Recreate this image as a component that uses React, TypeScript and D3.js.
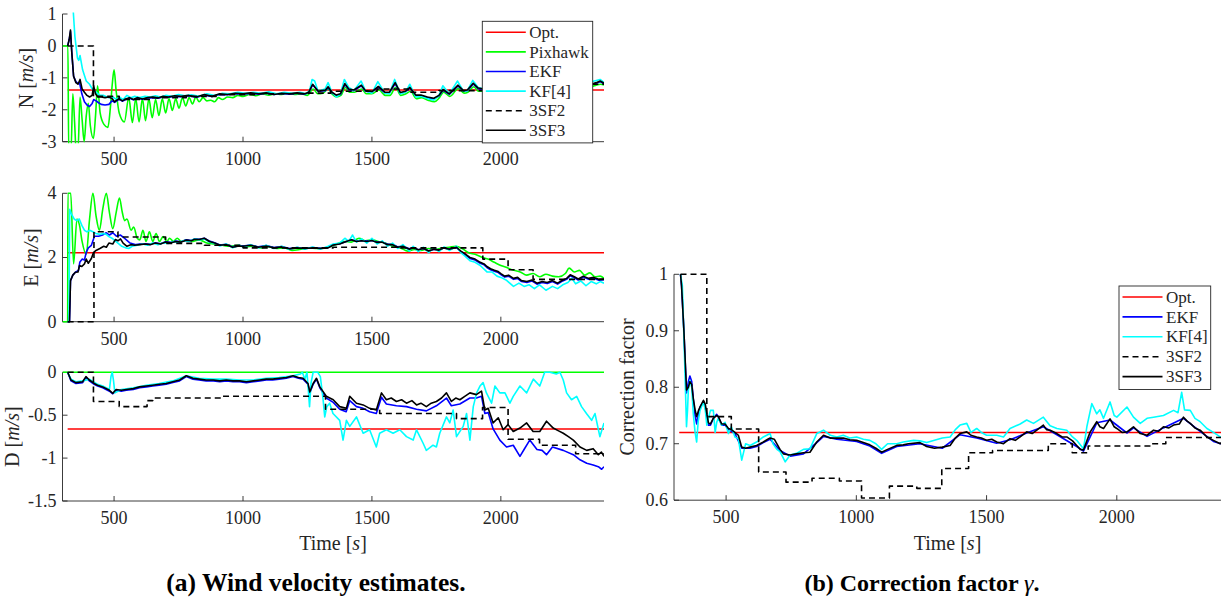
import React from 'react';
import * as d3 from 'd3';

type P = [number, number][];

// ---------- North wind ----------
const N_OPT = -1.38;
const N_PIX: P = [[300,0],[321,0],[324,-3.3],[333,-3.3],[340,-1.5],[347,-2.4],[353,-3.3],[360,-3.3],[368,-1.6],[376,-2.3],[384,-3.0],[392,-2.2],[400,-1.8],[408,-2.5],[420,-2.9],[428,-2.2],[436,-1.25],[446,-2.1],[460,-2.45],[476,-2.55],[486,-1.9],[493,-1.2],[500,-0.75],[508,-1.4],[520,-2.1],[540,-2.38],[557,-1.62],[571,-2.4],[584,-1.65],[597,-2.38],[610,-1.65],[622,-2.34],[635,-1.66],[648,-2.25],[661,-1.68],[674,-2.18],[687,-1.66],[700,-2.1],[713,-1.65],[726,-2.02],[739,-1.66],[752,-1.95],[765,-1.62],[778,-1.88],[791,-1.62],[804,-1.82],[817,-1.6],[830,-1.75],[845,-1.62],[860,-1.72],[875,-1.7],[890,-1.75],[905,-1.62],[920,-1.68],[940,-1.6],[960,-1.62],[980,-1.55],[1000,-1.58],[1025,-1.52],[1050,-1.56],[1075,-1.5],[1100,-1.54],[1125,-1.5],[1150,-1.52],[1175,-1.48],[1200,-1.52],[1225,-1.5],[1250,-1.55],[1272,-1.35],[1290,-1.5],[1310,-1.48],[1330,-1.35],[1345,-1.5],[1362,-1.6],[1380,-1.55],[1397,-1.3],[1412,-1.45],[1432,-1.45],[1460,-1.35],[1478,-1.5],[1500,-1.5],[1527,-1.38],[1552,-1.55],[1570,-1.55],[1592,-1.3],[1612,-1.55],[1632,-1.5],[1650,-1.42],[1672,-1.65],[1692,-1.62],[1717,-1.7],[1742,-1.75],[1762,-1.62],[1778,-1.45],[1802,-1.58],[1836,-1.33],[1857,-1.48],[1872,-1.45],[1895,-1.28],[1914,-1.42],[1937,-1.42],[1962,-1.35],[1992,-1.45],[2022,-1.38],[2052,-1.42],[2082,-1.33],[2112,-1.42],[2142,-1.35],[2172,-1.45],[2202,-1.38],[2232,-1.3],[2262,-1.4],[2292,-1.32],[2322,-1.36],[2352,-1.28],[2372,-1.22],[2387,-1.2],[2400,-1.22]];
const N_EKF: P = [[320,0],[326,0.2],[331,0.45],[336,-0.2],[343,-0.95],[352,-1.12],[360,-1.18],[366,-1.15],[375,-1.5],[385,-1.75],[395,-1.85],[405,-1.9],[415,-1.8],[421,-1.68],[430,-1.72],[440,-1.78],[450,-1.83],[465,-1.85],[480,-1.83],[492,-1.72],[502,-1.77],[510,-1.72],[520,-1.67],[532,-1.73],[545,-1.68],[560,-1.64],[575,-1.69],[590,-1.64],[610,-1.67],[630,-1.63],[650,-1.62],[670,-1.64],[690,-1.6],[710,-1.61],[735,-1.58],[760,-1.59],[790,-1.56],[820,-1.61],[850,-1.54],[880,-1.58],[910,-1.52],[940,-1.53],[970,-1.5],[1000,-1.51],[1030,-1.49],[1060,-1.51],[1090,-1.48],[1120,-1.52],[1150,-1.49],[1180,-1.51],[1210,-1.48],[1240,-1.51],[1255,-1.46],[1270,-1.22],[1280,-1.31],[1292,-1.43],[1305,-1.41],[1320,-1.4],[1330,-1.3],[1345,-1.47],[1362,-1.56],[1378,-1.52],[1395,-1.2],[1410,-1.37],[1430,-1.4],[1459,-1.25],[1475,-1.42],[1500,-1.45],[1525,-1.29],[1550,-1.47],[1568,-1.47],[1590,-1.18],[1610,-1.48],[1630,-1.44],[1647,-1.32],[1670,-1.56],[1690,-1.56],[1715,-1.62],[1740,-1.66],[1760,-1.57],[1776,-1.38],[1800,-1.52],[1834,-1.25],[1855,-1.42],[1870,-1.4],[1893,-1.19],[1912,-1.34],[1935,-1.37],[1960,-1.3],[1990,-1.42],[2020,-1.32],[2050,-1.37],[2080,-1.27],[2110,-1.37],[2140,-1.3],[2170,-1.42],[2200,-1.32],[2230,-1.24],[2260,-1.37],[2290,-1.27],[2320,-1.32],[2350,-1.22],[2370,-1.17],[2385,-1.12],[2400,-1.19]];
const N_KF: P = [[320,1.3],[340,1.3],[348,0.3],[358,-0.38],[363,-0.45],[368,-0.3],[378,-0.75],[392,-1.1],[405,-1.2],[418,-1.38],[430,-1.45],[445,-1.55],[460,-1.55],[478,-1.62],[495,-1.6],[510,-1.68],[520,-1.6],[535,-1.68],[550,-1.55],[565,-1.62],[580,-1.58],[600,-1.62],[620,-1.58],[640,-1.6],[660,-1.56],[680,-1.6],[700,-1.55],[725,-1.58],[750,-1.52],[775,-1.56],[800,-1.53],[830,-1.58],[860,-1.5],[890,-1.55],[920,-1.48],[950,-1.5],[980,-1.45],[1010,-1.48],[1040,-1.45],[1070,-1.48],[1100,-1.44],[1130,-1.5],[1160,-1.45],[1190,-1.48],[1220,-1.45],[1245,-1.5],[1258,-1.4],[1268,-1.05],[1278,-1.1],[1290,-1.4],[1305,-1.38],[1318,-1.35],[1330,-1.15],[1345,-1.45],[1362,-1.6],[1378,-1.5],[1393,-1.05],[1410,-1.3],[1430,-1.4],[1458,-1.1],[1475,-1.4],[1500,-1.48],[1523,-1.12],[1550,-1.48],[1568,-1.5],[1588,-1.05],[1610,-1.5],[1630,-1.45],[1647,-1.2],[1670,-1.6],[1690,-1.58],[1715,-1.65],[1740,-1.7],[1760,-1.55],[1775,-1.25],[1800,-1.5],[1832,-1.1],[1855,-1.42],[1870,-1.4],[1891,-1.08],[1912,-1.3],[1935,-1.35],[1960,-1.2],[1990,-1.4],[2020,-1.25],[2050,-1.35],[2080,-1.18],[2110,-1.35],[2140,-1.22],[2170,-1.4],[2200,-1.25],[2230,-1.15],[2260,-1.35],[2290,-1.2],[2320,-1.28],[2350,-1.12],[2370,-1.08],[2385,-1.05],[2400,-1.15]];
const N_3SF2: P = [[320,0],[420,-1.58],[520,-1.68],[640,-1.62],[780,-1.58],[900,-1.53],[1050,-1.5],[1240,-1.48],[1340,-1.42],[1520,-1.35],[1640,-1.45],[1760,-1.4],[1930,-1.35],[2100,-1.3],[2250,-1.2],[2400,-1.2]];
const N_3SF3: P = [[320,0],[326,0.2],[331,0.5],[336,-0.2],[343,-0.95],[352,-1.15],[360,-1.2],[368,-1.05],[376,-1.35],[385,-1.45],[395,-1.55],[405,-1.6],[415,-1.55],[421,-1.25],[428,-1.5],[437,-1.6],[450,-1.6],[465,-1.62],[480,-1.6],[492,-1.65],[502,-1.75],[510,-1.7],[520,-1.65],[532,-1.72],[545,-1.66],[560,-1.62],[575,-1.68],[590,-1.62],[610,-1.66],[630,-1.62],[650,-1.6],[670,-1.63],[690,-1.58],[710,-1.6],[735,-1.56],[760,-1.58],[790,-1.55],[820,-1.6],[850,-1.52],[880,-1.58],[910,-1.5],[940,-1.52],[970,-1.48],[1000,-1.5],[1030,-1.47],[1060,-1.5],[1090,-1.47],[1120,-1.52],[1150,-1.48],[1180,-1.5],[1210,-1.47],[1240,-1.5],[1255,-1.45],[1270,-1.2],[1280,-1.3],[1292,-1.42],[1305,-1.4],[1320,-1.38],[1330,-1.28],[1345,-1.45],[1362,-1.54],[1378,-1.5],[1395,-1.18],[1410,-1.35],[1430,-1.38],[1459,-1.23],[1475,-1.4],[1500,-1.43],[1525,-1.27],[1550,-1.45],[1568,-1.45],[1590,-1.15],[1610,-1.46],[1630,-1.42],[1647,-1.3],[1670,-1.54],[1690,-1.54],[1715,-1.6],[1740,-1.64],[1760,-1.55],[1776,-1.36],[1800,-1.5],[1834,-1.23],[1855,-1.4],[1870,-1.38],[1893,-1.17],[1912,-1.32],[1935,-1.35],[1960,-1.28],[1990,-1.4],[2020,-1.3],[2050,-1.35],[2080,-1.25],[2110,-1.35],[2140,-1.28],[2170,-1.4],[2200,-1.3],[2230,-1.22],[2260,-1.35],[2290,-1.25],[2320,-1.3],[2350,-1.2],[2370,-1.15],[2385,-1.1],[2400,-1.17]];

// ---------- East wind ----------
const E_OPT = 2.15;
const E_PIX: P = [[300,0],[320,0],[321,4],[332,4],[343,1.8],[356,3.2],[366,3.0],[376,2.5],[392,2.1],[405,3.2],[418,4.0],[430,3.3],[443,2.85],[456,3.5],[470,4.0],[482,3.4],[495,2.9],[508,3.4],[521,3.85],[532,3.4],[541,3.15],[550,3.2],[566,2.85],[576,2.95],[590,2.6],[600,2.55],[612,2.85],[624,2.5],[637,2.8],[650,2.5],[663,2.75],[676,2.5],[690,2.65],[705,2.5],[715,2.6],[730,2.5],[745,2.6],[760,2.5],[780,2.55],[800,2.5],[830,2.55],[860,2.45],[890,2.42],[920,2.38],[950,2.35],[980,2.38],[1010,2.33],[1040,2.36],[1070,2.3],[1100,2.34],[1130,2.28],[1160,2.3],[1190,2.22],[1220,2.25],[1250,2.3],[1290,2.28],[1330,2.32],[1360,2.4],[1390,2.5],[1420,2.48],[1450,2.6],[1475,2.52],[1500,2.55],[1525,2.5],[1550,2.45],[1580,2.35],[1610,2.3],[1640,2.2],[1665,2.25],[1690,2.22],[1720,2.28],[1750,2.25],[1775,2.3],[1800,2.32],[1825,2.35],[1850,2.28],[1875,2.15],[1900,2.1],[1930,2.0],[1950,1.95],[1975,1.85],[2000,1.75],[2025,1.68],[2050,1.6],[2075,1.55],[2100,1.45],[2125,1.5],[2150,1.4],[2175,1.48],[2200,1.42],[2225,1.4],[2250,1.5],[2265,1.67],[2285,1.55],[2305,1.6],[2325,1.45],[2345,1.52],[2365,1.4],[2385,1.42],[2400,1.35]];
const E_EKF: P = [[320,0],[327,0],[331,1.28],[340,1.45],[350,1.54],[362,1.6],[367,1.85],[376,1.95],[385,1.92],[392,2.16],[400,2.3],[412,2.38],[424,2.66],[440,2.66],[455,2.7],[470,2.77],[482,2.7],[495,2.77],[510,2.66],[525,2.7],[540,2.6],[562,2.45],[585,2.4],[600,2.42],[620,2.43],[640,2.41],[660,2.46],[680,2.43],[700,2.49],[720,2.47],[740,2.51],[760,2.49],[780,2.55],[800,2.53],[812,2.58],[830,2.57],[850,2.6],[870,2.51],[890,2.46],[910,2.39],[935,2.41],[960,2.33],[985,2.37],[1000,2.36],[1030,2.39],[1060,2.33],[1090,2.37],[1120,2.31],[1150,2.34],[1180,2.28],[1210,2.31],[1240,2.29],[1270,2.31],[1300,2.29],[1330,2.31],[1350,2.4],[1375,2.43],[1400,2.5],[1420,2.55],[1440,2.51],[1460,2.53],[1480,2.51],[1500,2.53],[1520,2.48],[1540,2.48],[1560,2.41],[1580,2.41],[1600,2.33],[1620,2.35],[1645,2.27],[1660,2.3],[1680,2.24],[1700,2.28],[1720,2.2],[1740,2.26],[1760,2.23],[1780,2.3],[1800,2.26],[1828,2.31],[1845,2.18],[1860,2.1],[1880,1.97],[1900,1.92],[1920,1.82],[1935,1.77],[1946,1.69],[1960,1.62],[1975,1.57],[1990,1.53],[2000,1.47],[2015,1.39],[2030,1.42],[2049,1.32],[2065,1.35],[2080,1.25],[2101,1.22],[2120,1.27],[2140,1.17],[2160,1.22],[2180,1.19],[2200,1.25],[2220,1.17],[2240,1.27],[2255,1.32],[2269,1.43],[2285,1.37],[2300,1.3],[2320,1.39],[2340,1.32],[2360,1.35],[2380,1.29],[2400,1.31]];
const E_KF: P = [[320,0],[325,0],[328,3.5],[335,3.35],[345,3.2],[355,3.15],[365,3.2],[375,3.0],[385,2.85],[395,2.8],[405,2.85],[418,2.8],[430,2.75],[445,2.72],[458,2.75],[470,2.72],[480,2.65],[492,2.6],[500,2.55],[515,2.45],[530,2.35],[545,2.3],[557,2.28],[570,2.35],[590,2.38],[610,2.42],[630,2.38],[650,2.45],[670,2.4],[690,2.46],[710,2.44],[730,2.5],[750,2.47],[770,2.52],[790,2.5],[812,2.58],[830,2.55],[850,2.58],[870,2.48],[890,2.44],[910,2.36],[935,2.42],[960,2.3],[985,2.38],[1000,2.33],[1030,2.4],[1060,2.3],[1090,2.38],[1120,2.28],[1150,2.35],[1180,2.25],[1210,2.32],[1240,2.26],[1270,2.33],[1300,2.26],[1330,2.35],[1350,2.42],[1375,2.45],[1395,2.6],[1410,2.5],[1425,2.7],[1440,2.48],[1460,2.58],[1480,2.45],[1500,2.6],[1520,2.42],[1540,2.52],[1560,2.35],[1580,2.45],[1600,2.28],[1620,2.4],[1645,2.2],[1660,2.35],[1680,2.18],[1700,2.32],[1720,2.15],[1740,2.3],[1760,2.18],[1780,2.33],[1800,2.22],[1828,2.35],[1845,2.15],[1860,2.05],[1880,1.9],[1900,1.85],[1920,1.75],[1946,1.55],[1965,1.55],[1985,1.42],[2000,1.38],[2020,1.3],[2049,1.1],[2070,1.2],[2090,1.1],[2110,1.15],[2130,1.03],[2150,1.15],[2175,0.98],[2200,1.1],[2220,1.03],[2240,1.15],[2260,1.22],[2275,1.35],[2290,1.18],[2310,1.27],[2330,1.12],[2350,1.25],[2370,1.18],[2385,1.25],[2400,1.2]];
const E_3SF2: P = [[320,0],[422,2.8],[515,2.64],[700,2.44],[850,2.38],[1000,2.3],[1350,2.32],[1600,2.3],[1930,1.95],[2028,1.62],[2125,1.32],[2400,1.32]];
const E_3SF3: P = [[320,0],[327,0],[331,1.28],[340,1.45],[350,1.54],[360,1.55],[366,1.75],[375,1.72],[385,1.8],[392,1.95],[400,1.82],[412,1.97],[420,2.15],[430,2.22],[445,2.28],[460,2.35],[470,2.32],[480,2.45],[495,2.42],[505,2.56],[515,2.52],[525,2.58],[535,2.45],[550,2.35],[565,2.4],[580,2.38],[600,2.4],[620,2.42],[640,2.4],[660,2.45],[680,2.42],[700,2.48],[720,2.46],[740,2.5],[760,2.48],[780,2.54],[800,2.52],[812,2.57],[830,2.56],[850,2.6],[870,2.5],[890,2.45],[910,2.38],[935,2.4],[960,2.32],[985,2.36],[1000,2.35],[1030,2.38],[1060,2.32],[1090,2.36],[1120,2.3],[1150,2.33],[1180,2.27],[1210,2.3],[1240,2.28],[1270,2.3],[1300,2.28],[1330,2.3],[1350,2.39],[1375,2.42],[1400,2.5],[1420,2.55],[1440,2.5],[1460,2.52],[1480,2.5],[1500,2.53],[1520,2.47],[1540,2.48],[1560,2.4],[1580,2.4],[1600,2.32],[1620,2.35],[1645,2.26],[1660,2.3],[1680,2.24],[1700,2.28],[1720,2.2],[1740,2.26],[1760,2.23],[1780,2.3],[1800,2.26],[1828,2.32],[1845,2.2],[1860,2.12],[1880,2.0],[1900,1.95],[1920,1.85],[1935,1.8],[1946,1.72],[1960,1.65],[1975,1.6],[1990,1.56],[2000,1.5],[2015,1.42],[2030,1.45],[2049,1.35],[2065,1.38],[2080,1.28],[2101,1.25],[2120,1.3],[2140,1.2],[2160,1.25],[2180,1.22],[2200,1.28],[2220,1.2],[2240,1.3],[2255,1.35],[2269,1.46],[2285,1.4],[2300,1.33],[2320,1.42],[2340,1.35],[2360,1.38],[2380,1.32],[2400,1.33]];

// ---------- Down wind ----------
const D_OPT = -0.66;
const D_PIX: P = [[300,0],[2400,0]];
const D_EKF: P = [[320,0],[333,-0.1],[352,-0.13],[378,-0.12],[391,-0.06],[404,-0.1],[423,-0.14],[436,-0.16],[456,-0.18],[482,-0.22],[495,-0.25],[508,-0.21],[528,-0.22],[547,-0.21],[575,-0.2],[599,-0.18],[625,-0.17],[650,-0.16],[675,-0.15],[702,-0.14],[728,-0.12],[754,-0.1],[780,-0.05],[806,-0.08],[830,-0.09],[857,-0.1],[885,-0.1],[910,-0.11],[935,-0.1],[961,-0.11],[987,-0.11],[1013,-0.12],[1040,-0.11],[1065,-0.1],[1090,-0.09],[1115,-0.09],[1140,-0.08],[1168,-0.07],[1194,-0.05],[1215,-0.07],[1233,-0.08],[1252,-0.14],[1259,-0.24],[1272,-0.14],[1285,-0.08],[1298,-0.18],[1323,-0.3],[1350,-0.35],[1375,-0.43],[1400,-0.46],[1414,-0.33],[1440,-0.4],[1466,-0.42],[1491,-0.46],[1517,-0.48],[1537,-0.29],[1556,-0.37],[1595,-0.39],[1634,-0.4],[1673,-0.43],[1711,-0.45],[1750,-0.39],[1789,-0.3],[1808,-0.39],[1841,-0.37],[1880,-0.3],[1905,-0.3],[1925,-0.28],[1938,-0.48],[1951,-0.47],[1970,-0.66],[1996,-0.79],[2022,-0.87],[2048,-0.85],[2074,-0.98],[2090,-0.9],[2112,-0.79],[2140,-0.9],[2160,-0.91],[2177,-0.96],[2200,-0.87],[2242,-0.91],[2281,-0.96],[2307,-1.02],[2333,-1.06],[2358,-1.08],[2378,-1.1],[2391,-1.13],[2400,-1.1]];
const D_KF: P = [[320,0],[333,-0.08],[352,-0.11],[378,-0.1],[404,-0.08],[436,-0.14],[456,-0.16],[482,-0.2],[488,-0.05],[493,0],[498,-0.1],[503,-0.24],[528,-0.2],[575,-0.18],[625,-0.15],[675,-0.13],[728,-0.1],[780,-0.04],[830,-0.07],[885,-0.08],[935,-0.08],[987,-0.09],[1040,-0.09],[1090,-0.07],[1140,-0.06],[1194,-0.04],[1222,-0.02],[1230,0],[1240,-0.08],[1248,0],[1252,-0.15],[1258,-0.4],[1264,-0.12],[1272,0],[1290,0],[1300,-0.05],[1310,-0.3],[1317,-0.52],[1325,-0.4],[1336,-0.36],[1349,-0.48],[1375,-0.56],[1388,-0.79],[1401,-0.56],[1414,-0.63],[1440,-0.52],[1466,-0.71],[1491,-0.67],[1517,-0.87],[1530,-0.71],[1556,-0.67],[1582,-0.71],[1608,-0.67],[1634,-0.75],[1660,-0.79],[1673,-0.67],[1699,-0.83],[1711,-0.91],[1737,-0.85],[1750,-0.87],[1763,-0.71],[1789,-0.52],[1802,-0.59],[1815,-0.44],[1828,-0.75],[1854,-0.63],[1867,-0.48],[1880,-0.79],[1893,-0.4],[1906,-0.24],[1919,-0.16],[1931,-0.12],[1944,-0.24],[1964,-0.36],[1977,-0.16],[1996,-0.24],[2016,-0.24],[2035,-0.36],[2048,-0.28],[2074,-0.16],[2100,-0.24],[2126,-0.08],[2151,-0.16],[2170,0],[2190,0],[2215,-0.02],[2229,0],[2242,-0.09],[2255,-0.24],[2274,-0.32],[2294,-0.28],[2313,-0.4],[2332,-0.48],[2352,-0.56],[2365,-0.48],[2384,-0.75],[2400,-0.59]];
const D_3SF2: P = [[320,0],[420,-0.34],[520,-0.4],[628,-0.33],[650,-0.3],[920,-0.28],[1320,-0.43],[1530,-0.48],[1828,-0.54],[1929,-0.41],[2028,-0.78],[2150,-0.85],[2290,-0.95],[2400,-0.95]];
const D_3SF3: P = [[320,0],[333,-0.09],[352,-0.12],[378,-0.11],[391,-0.05],[404,-0.09],[423,-0.13],[436,-0.15],[456,-0.17],[482,-0.21],[495,-0.245],[508,-0.2],[528,-0.21],[547,-0.2],[575,-0.19],[599,-0.17],[625,-0.16],[650,-0.15],[675,-0.14],[702,-0.13],[728,-0.11],[754,-0.09],[780,-0.04],[806,-0.07],[830,-0.08],[857,-0.09],[885,-0.09],[910,-0.1],[935,-0.09],[961,-0.1],[987,-0.1],[1013,-0.11],[1040,-0.1],[1065,-0.09],[1090,-0.08],[1115,-0.08],[1140,-0.07],[1168,-0.06],[1194,-0.04],[1215,-0.06],[1233,-0.07],[1252,-0.13],[1259,-0.23],[1272,-0.13],[1285,-0.07],[1298,-0.17],[1323,-0.28],[1350,-0.32],[1375,-0.4],[1401,-0.42],[1414,-0.28],[1440,-0.36],[1466,-0.38],[1491,-0.42],[1517,-0.44],[1537,-0.24],[1556,-0.32],[1575,-0.3],[1595,-0.34],[1615,-0.32],[1634,-0.36],[1655,-0.33],[1673,-0.38],[1690,-0.36],[1711,-0.4],[1730,-0.36],[1750,-0.34],[1770,-0.3],[1789,-0.24],[1808,-0.34],[1825,-0.3],[1841,-0.32],[1860,-0.28],[1880,-0.24],[1905,-0.26],[1925,-0.22],[1938,-0.44],[1951,-0.42],[1970,-0.59],[1990,-0.53],[2009,-0.67],[2028,-0.61],[2048,-0.69],[2074,-0.65],[2100,-0.59],[2125,-0.69],[2151,-0.69],[2177,-0.57],[2203,-0.65],[2222,-0.68],[2242,-0.71],[2262,-0.75],[2281,-0.79],[2307,-0.87],[2333,-0.91],[2358,-0.89],[2378,-0.96],[2390,-0.93],[2400,-0.98]];

// ---------- Correction factor ----------
const G_OPT = 0.72;
const G_EKF: P = [[325,1.0],[329,0.98],[338,0.9],[348,0.79],[355,0.81],[361,0.82],[368,0.81],[374,0.78],[381,0.75],[387,0.735],[395,0.755],[400,0.765],[413,0.775],[420,0.765],[432,0.733],[440,0.733],[451,0.745],[464,0.752],[470,0.748],[483,0.733],[496,0.733],[509,0.725],[534,0.718],[560,0.692],[592,0.692],[617,0.695],[643,0.702],[669,0.708],[707,0.688],[746,0.678],[797,0.682],[848,0.702],[874,0.713],[925,0.708],[1001,0.704],[1052,0.696],[1097,0.683],[1155,0.695],[1244,0.7],[1330,0.692],[1398,0.716],[1462,0.71],[1539,0.701],[1590,0.707],[1654,0.719],[1718,0.73],[1770,0.716],[1846,0.695],[1872,0.687],[1923,0.737],[1974,0.742],[2039,0.719],[2064,0.728],[2116,0.713],[2179,0.728],[2256,0.745],[2320,0.722],[2371,0.704],[2400,0.7]];
const G_KF: P = [[325,1.0],[332,0.98],[340,0.86],[348,0.73],[352,0.76],[355,0.795],[361,0.812],[368,0.8],[374,0.753],[381,0.72],[387,0.703],[393,0.74],[400,0.759],[413,0.774],[420,0.76],[426,0.733],[432,0.745],[440,0.759],[451,0.759],[458,0.72],[464,0.738],[470,0.745],[483,0.733],[496,0.738],[509,0.718],[520,0.73],[534,0.712],[547,0.709],[560,0.671],[575,0.7],[592,0.697],[617,0.703],[643,0.712],[669,0.718],[680,0.7],[695,0.69],[707,0.686],[727,0.668],[746,0.68],[770,0.683],[797,0.69],[822,0.691],[848,0.718],[874,0.724],[900,0.715],[925,0.712],[950,0.715],[975,0.71],[1001,0.712],[1027,0.708],[1052,0.706],[1075,0.7],[1097,0.69],[1120,0.7],[1155,0.7],[1180,0.703],[1220,0.706],[1244,0.705],[1270,0.702],[1300,0.706],[1330,0.71],[1360,0.712],[1380,0.725],[1398,0.733],[1424,0.736],[1440,0.72],[1462,0.727],[1480,0.72],[1500,0.715],[1539,0.715],[1565,0.712],[1590,0.727],[1629,0.735],[1654,0.742],[1680,0.736],[1718,0.747],[1730,0.74],[1744,0.732],[1770,0.727],[1808,0.724],[1830,0.712],[1846,0.706],[1872,0.691],[1885,0.73],[1904,0.771],[1923,0.753],[1935,0.76],[1949,0.745],[1974,0.774],[1990,0.75],[2000,0.747],[2039,0.765],[2064,0.747],[2090,0.736],[2116,0.745],[2141,0.747],[2179,0.75],[2218,0.759],[2235,0.755],[2249,0.791],[2260,0.76],[2282,0.759],[2300,0.745],[2320,0.739],[2346,0.727],[2371,0.72],[2397,0.712],[2400,0.712]];
const G_3SF2: P = [[325,1.0],[426,0.748],[520,0.726],[625,0.65],[730,0.632],[830,0.639],[935,0.634],[1020,0.604],[1127,0.625],[1232,0.621],[1328,0.656],[1431,0.684],[1523,0.688],[1737,0.7],[1829,0.684],[1890,0.696],[2127,0.7],[2188,0.711],[2400,0.711]];
const G_3SF3: P = [[325,1.0],[329,0.98],[338,0.9],[348,0.795],[355,0.8],[361,0.81],[368,0.805],[374,0.78],[381,0.76],[387,0.748],[395,0.76],[400,0.765],[413,0.777],[420,0.77],[432,0.737],[440,0.735],[451,0.745],[464,0.75],[470,0.748],[483,0.735],[496,0.735],[509,0.727],[520,0.725],[534,0.72],[547,0.715],[560,0.694],[575,0.692],[592,0.694],[617,0.697],[643,0.703],[660,0.708],[669,0.71],[685,0.708],[707,0.69],[720,0.682],[746,0.68],[770,0.682],[797,0.684],[822,0.685],[848,0.703],[874,0.715],[900,0.71],[925,0.71],[950,0.71],[975,0.707],[1001,0.706],[1027,0.702],[1052,0.698],[1075,0.692],[1097,0.685],[1120,0.69],[1155,0.697],[1180,0.698],[1200,0.7],[1244,0.702],[1270,0.695],[1300,0.692],[1330,0.694],[1360,0.697],[1380,0.71],[1398,0.718],[1424,0.721],[1440,0.715],[1462,0.712],[1480,0.71],[1500,0.706],[1520,0.708],[1539,0.703],[1565,0.7],[1590,0.709],[1610,0.706],[1629,0.712],[1654,0.721],[1675,0.718],[1693,0.724],[1718,0.733],[1730,0.725],[1744,0.724],[1770,0.718],[1790,0.712],[1808,0.712],[1830,0.705],[1846,0.697],[1860,0.69],[1872,0.689],[1885,0.705],[1898,0.721],[1923,0.739],[1935,0.73],[1949,0.727],[1974,0.744],[1990,0.73],[2000,0.727],[2020,0.72],[2039,0.721],[2064,0.73],[2090,0.718],[2116,0.715],[2141,0.724],[2160,0.722],[2179,0.73],[2200,0.728],[2218,0.733],[2240,0.735],[2256,0.747],[2270,0.74],[2282,0.736],[2300,0.728],[2320,0.724],[2346,0.712],[2371,0.706],[2397,0.7],[2400,0.702]];

// ---------- axes ----------
const X_DOMAIN = [300, 2400];
const X_TICKS = [500, 1000, 1500, 2000];
const N_TICKS = [1, 0, -1, -2, -3];
const E_TICKS = [4, 2, 0];
const D_TICKS = [0, -0.5, -1, -1.5];
const G_TICKS = [1, 0.9, 0.8, 0.7, 0.6];
const T_START = 320;
const T_END = 2400;

const LEGEND_A = ['Opt.', 'Pixhawk', 'EKF', 'KF[4]', '3SF2', '3SF3'];
const LEGEND_B = ['Opt.', 'EKF', 'KF[4]', '3SF2', '3SF3'];

const FONT = 'Liberation Serif, DejaVu Serif, serif';
const AX = '#262626';
const STYLE: Record<string, { color: string; dash?: string; smooth?: boolean }> = {
  'Opt.': { color: '#ff0000' },
  'Pixhawk': { color: '#00ff00', smooth: true },
  'EKF': { color: '#0000ff' },
  'KF[4]': { color: '#00ffff' },
  '3SF2': { color: '#000000', dash: '6,4' },
  '3SF3': { color: '#000000' },
};

interface Series { name: string; data: P; step?: boolean; }

interface PanelProps {
  id: string; x0: number; x1: number; y0: number; y1: number;
  yDomain: [number, number]; yTicks: number[]; series: Series[];
}

const txt = (size: number, extra: React.CSSProperties = {}): React.CSSProperties => ({ fontFamily: FONT, fontSize: size, fill: AX, ...extra });

function Panel({ id, x0, x1, y0, y1, yDomain, yTicks, series }: PanelProps) {
  const x = d3.scaleLinear().domain(X_DOMAIN).range([x0, x1]);
  const y = d3.scaleLinear().domain(yDomain).range([y1, y0]);
  const tl = 5;
  return (
    <g>
      <defs>
        <clipPath id={id}>
          <rect x={x0} y={y0 - 1.5} width={x1 - x0} height={y1 - y0 + 3} />
        </clipPath>
      </defs>
      <line x1={x0} x2={x0} y1={y0} y2={y1} stroke={AX} strokeWidth={0.9} />
      <line x1={x0} x2={x1} y1={y1} y2={y1} stroke={AX} strokeWidth={0.9} />
      {X_TICKS.map(t => (
        <g key={'x' + t}>
          <line x1={x(t)} x2={x(t)} y1={y1} y2={y1 - tl} stroke={AX} strokeWidth={0.9} />
          <text x={x(t)} y={y1 + 23} textAnchor="middle" style={txt(18)}>{t}</text>
        </g>
      ))}
      {yTicks.map(t => (
        <g key={'y' + t}>
          <line x1={x0} x2={x0 + tl} y1={y(t)} y2={y(t)} stroke={AX} strokeWidth={0.9} />
          <text x={x0 - 6} y={y(t)} dy="0.33em" textAnchor="end" style={txt(18)}>{String(t)}</text>
        </g>
      ))}
      <g clipPath={`url(#${id})`}>
        {series.map((s, i) => {
          const st = STYLE[s.name];
          const line = d3.line<[number, number]>()
            .x(d => x(d[0])).y(d => y(d[1]))
            .curve(s.step ? d3.curveStepAfter : st.smooth ? d3.curveMonotoneX : d3.curveLinear);
          return (
            <path key={i} d={line(s.data) || ''} fill="none" stroke={st.color}
              strokeWidth={1.6} strokeDasharray={st.dash} strokeLinejoin="round" />
          );
        })}
      </g>
    </g>
  );
}

function Legend({ x, y, w, items, rowH }: { x: number; y: number; w: number; items: string[]; rowH: number }) {
  const h = items.length * rowH + 4;
  return (
    <g>
      <rect x={x} y={y} width={w} height={h} fill="#ffffff" stroke={AX} strokeWidth={0.9} />
      {items.map((name, i) => {
        const cy = y + 11 + i * rowH;
        const st = STYLE[name];
        return (
          <g key={name}>
            <line x1={x + 3.5} x2={x + 43.5} y1={cy} y2={cy} stroke={st.color} strokeWidth={1.6} strokeDasharray={st.dash} />
            <text x={x + 47} y={cy} dy="0.33em" style={txt(17)}>{name}</text>
          </g>
        );
      })}
    </g>
  );
}

function YLabel({ x, y, name, units }: { x: number; y: number; name: string; units?: boolean }) {
  return (
    <text transform={`translate(${x},${y}) rotate(-90)`} dy="0.33em" textAnchor="middle" style={txt(20)}>
      {name}{units ? <>{' ['}<tspan style={{ fontStyle: 'italic' }}>m/s</tspan>{']'}</> : null}
    </text>
  );
}

function opt(v: number): P { return [[T_START, v], [T_END, v]]; }

export default function App() {
  const LX0 = 62.5, LX1 = 604;
  const RX0 = 674, RX1 = 1221;
  const nSeries: Series[] = [
    { name: 'Opt.', data: opt(N_OPT) }, { name: 'Pixhawk', data: N_PIX }, { name: 'EKF', data: N_EKF },
    { name: 'KF[4]', data: N_KF }, { name: '3SF2', data: N_3SF2, step: true }, { name: '3SF3', data: N_3SF3 },
  ];
  const eSeries: Series[] = [
    { name: 'Opt.', data: opt(E_OPT) }, { name: 'Pixhawk', data: E_PIX }, { name: 'EKF', data: E_EKF },
    { name: 'KF[4]', data: E_KF }, { name: '3SF2', data: E_3SF2, step: true }, { name: '3SF3', data: E_3SF3 },
  ];
  const dSeries: Series[] = [
    { name: 'Opt.', data: opt(D_OPT) }, { name: 'Pixhawk', data: D_PIX }, { name: 'EKF', data: D_EKF },
    { name: 'KF[4]', data: D_KF }, { name: '3SF2', data: D_3SF2, step: true }, { name: '3SF3', data: D_3SF3 },
  ];
  const gSeries: Series[] = [
    { name: 'Opt.', data: opt(G_OPT) }, { name: 'EKF', data: G_EKF },
    { name: 'KF[4]', data: G_KF }, { name: '3SF2', data: G_3SF2, step: true }, { name: '3SF3', data: G_3SF3 },
  ];
  return (
    <svg width={1225} height={602} style={{ position: 'absolute', left: 0, top: 0, background: '#fff' }}>
      <rect x={0} y={0} width={1225} height={602} fill="#fff" />
      <Panel id="cN" x0={LX0} x1={LX1} y0={14} y1={141.7} yDomain={[-3, 1]} yTicks={N_TICKS} series={nSeries} />
      <Panel id="cE" x0={LX0} x1={LX1} y0={193.3} y1={321.7} yDomain={[0, 4]} yTicks={E_TICKS} series={eSeries} />
      <Panel id="cD" x0={LX0} x1={LX1} y0={372.3} y1={501} yDomain={[-1.5, 0]} yTicks={D_TICKS} series={dSeries} />
      <Panel id="cG" x0={RX0} x1={RX1} y0={274.3} y1={500.2} yDomain={[0.6, 1]} yTicks={G_TICKS} series={gSeries} />
      <Legend x={482.3} y={21.3} w={110.4} items={LEGEND_A} rowH={19.6} />
      <Legend x={1119} y={286} w={91.7} items={LEGEND_B} rowH={19.9} />
      <YLabel x={26} y={78} name="N" units />
      <YLabel x={31} y={257.5} name="E" units />
      <YLabel x={12} y={436.6} name="D" units />
      <YLabel x={627} y={387} name="Correction factor" />
      <text x={333} y={550} textAnchor="middle" style={txt(20)}>Time [<tspan style={{ fontStyle: 'italic' }}>s</tspan>]</text>
      <text x={947.5} y={550} textAnchor="middle" style={txt(20)}>Time [<tspan style={{ fontStyle: 'italic' }}>s</tspan>]</text>
      <text x={316} y={591} textAnchor="middle" style={txt(25.5, { fontWeight: 'bold', fill: '#000' })}>(a) Wind velocity estimates.</text>
      <text x={922} y={591} textAnchor="middle" style={txt(24, { fontWeight: 'bold', fill: '#000' })}>(b) Correction factor <tspan style={{ fontStyle: 'italic', fontWeight: 'normal' }}>γ</tspan>.</text>
    </svg>
  );
}
